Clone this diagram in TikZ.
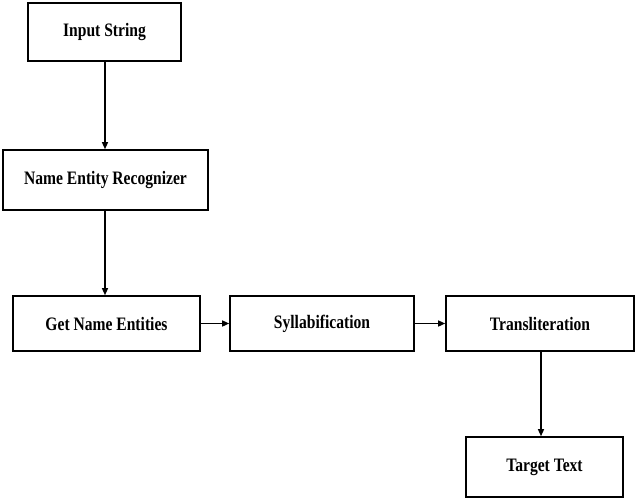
\documentclass[tikz,border=0pt]{standalone}
\usepackage{fontspec}
\setmainfont{Liberation Serif}
\usetikzlibrary{arrows.meta}
\newcommand{\bt}[1]{\scalebox{0.82}[1]{\bfseries #1}}
\begin{document}
\begin{tikzpicture}[x=1pt,y=-1pt,
  box/.style={draw,line width=1.6pt,inner sep=0pt,font=\fontsize{19}{22}\selectfont},
  arr/.style={line width=1.3pt,-{Triangle[length=7pt,width=6pt]}}]
\useasboundingbox (0,0) rectangle (636,500);
\node[box,minimum width=153,minimum height=58] (in) at (104.5,32) {\bt{Input String}};
\node[box,minimum width=205,minimum height=60] (ner) at (105.5,180) {\bt{Name Entity Recognizer}};
\node[box,minimum width=187,minimum height=55] (gne) at (106.5,323.5) {\bt{Get Name Entities}};
\node[box,minimum width=184,minimum height=55] (syl) at (322,323.5) {\bt{Syllabification}};
\node[box,minimum width=188,minimum height=55] (tr) at (540,323.5) {\bt{Transliteration}};
\node[box,minimum width=157,minimum height=60] (tt) at (544.5,467) {\bt{Target Text}};
\draw[arr] (in.south -| 105,0) -- (ner.north -| 105,0);
\draw[arr] (ner.south -| 105,0) -- (gne.north -| 105,0);
\draw[arr] (gne.east) -- (syl.west);
\draw[arr] (syl.east) -- (tr.west);
\draw[arr] (tr.south -| 541,0) -- (tt.north -| 541,0);
\end{tikzpicture}
\end{document}
